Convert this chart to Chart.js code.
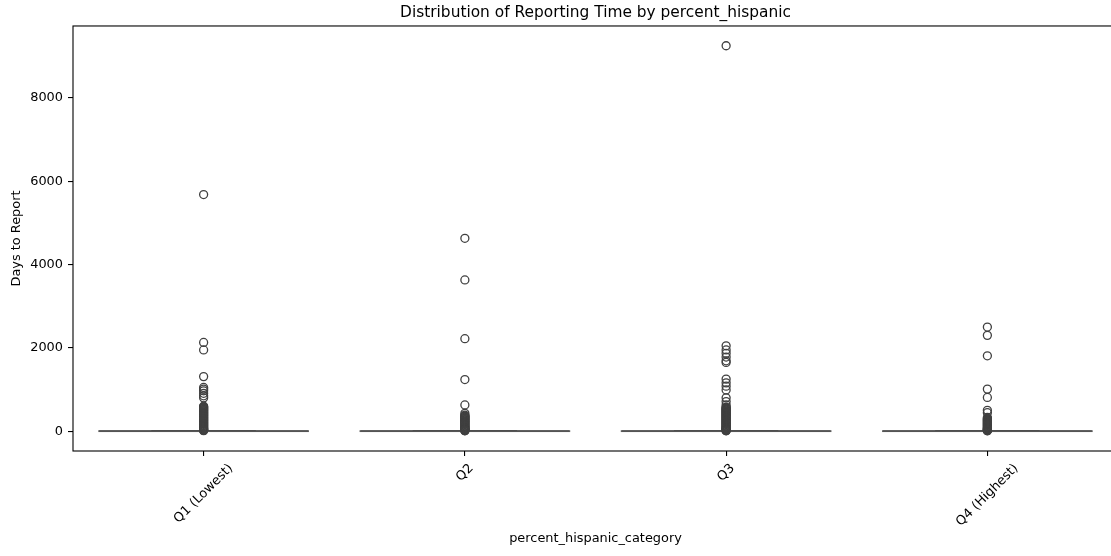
<!DOCTYPE html>
<html>
<head>
<meta charset="utf-8">
<script src="https://cdn.jsdelivr.net/npm/chart.js@4/dist/chart.umd.min.js"></script>
<style>
  html, body { margin: 0; padding: 0; overflow: hidden; background: #fff; }
  canvas { display: block; }
</style>
</head>
<body>
<canvas id="boxChart" width="1191" height="556"></canvas>
<script>
// categories and tick labels
var categories = ['Q1 (Lowest)', 'Q2', 'Q3', 'Q4 (Highest)'];
var yTicks = [0, 2000, 4000, 6000, 8000];

// box stats (days), all squashed near zero
var boxQ1 = [0, 0, 0, 0];
var boxMedian = [1, 1, 1, 1];
var boxQ3 = [4, 3, 3, 3];
var whiskerLow = [0, 0, 0, 0];
var whiskerHigh = [10, 8, 8, 8];

// outliers
var q1Outliers = [5680, 2130, 1950, 1310, 1050, 1010, 970, 910, 850, 800,
    600, 585, 570, 555, 540, 525, 510, 495, 480, 465, 450, 435, 420, 405, 390, 375, 360, 345, 330, 315,
    300, 285, 270, 255, 240, 225, 210, 195, 180, 165, 150, 135, 120, 105, 90, 78, 66, 55, 45, 36, 28, 20, 14];
var q2Outliers = [4630, 3630, 2220, 1240, 630, 430,
    385, 370, 355, 340, 325, 310, 295, 280, 265, 250, 235, 220, 205, 190, 175, 160, 145, 130, 115,
    100, 88, 76, 65, 55, 45, 36, 28, 20, 14, 10];
var q3Outliers = [9250, 2050, 1950, 1870, 1780, 1690, 1650, 1250, 1160, 1080, 990, 800, 710, 630,
    580, 565, 550, 535, 520, 505, 490, 475, 460, 445, 430, 415, 400, 385, 370, 355, 340, 325, 310,
    295, 280, 265, 250, 235, 220, 205, 190, 175, 160, 145, 130, 115, 100, 88, 76, 65, 55, 45, 36, 28, 20, 14, 10];
var q4Outliers = [2500, 2300, 1810, 1010, 810, 500, 445, 330,
    305, 290, 275, 260, 245, 230, 215, 200, 185, 170, 155, 140, 125, 110, 96, 84, 72, 62, 52, 43, 35, 27, 20, 14, 10];

var outliers = [q1Outliers, q2Outliers, q3Outliers, q4Outliers];
var points = [];
outliers.forEach(function(list, i) {
    list.forEach(function(v) { points.push({x: i, y: v}); });
});

var FONT = '"DejaVu Sans", sans-serif';

var boxPlugin = {
    id: 'boxes',
    beforeDatasetsDraw: function(chart) {
        var ctx = chart.ctx, x = chart.scales.x, y = chart.scales.y;
        ctx.save();
        ctx.lineWidth = 1.7;
        categories.forEach(function(c, i) {
            var xl = x.getPixelForValue(i - 0.4), xr = x.getPixelForValue(i + 0.4);
            var cl = x.getPixelForValue(i - 0.2), cr = x.getPixelForValue(i + 0.2);
            var xc = x.getPixelForValue(i);
            var yq1 = y.getPixelForValue(boxQ1[i]), yq3 = y.getPixelForValue(boxQ3[i]);
            // box
            ctx.strokeStyle = '#666666';
            ctx.strokeRect(xl, yq3, xr - xl, yq1 - yq3);
            ctx.strokeStyle = '#3f3f3f';
            ctx.beginPath();
            var yl = y.getPixelForValue(whiskerLow[i]), yh = y.getPixelForValue(whiskerHigh[i]);
            // whiskers
            ctx.moveTo(xc, yq1); ctx.lineTo(xc, yl);
            ctx.moveTo(xc, yq3); ctx.lineTo(xc, yh);
            // caps
            ctx.moveTo(cl, yl); ctx.lineTo(cr, yl);
            ctx.moveTo(cl, yh); ctx.lineTo(cr, yh);
            ctx.stroke();
            // median
            var ym = y.getPixelForValue(boxMedian[i]);
            ctx.strokeStyle = '#555555';
            ctx.beginPath();
            ctx.moveTo(xl, ym); ctx.lineTo(xr, ym);
            ctx.stroke();
        });
        ctx.restore();
    },
    afterDraw: function(chart) {
        var ctx = chart.ctx, a = chart.chartArea, x = chart.scales.x;
        ctx.save();
        // frame
        ctx.strokeStyle = '#000';
        ctx.lineWidth = 1.1;
        ctx.strokeRect(a.left, a.top, a.right - a.left, a.bottom - a.top);
        // rotated x labels, centred under the tick like matplotlib
        ctx.font = '12.9px ' + FONT;
        ctx.fillStyle = '#000';
        ctx.textAlign = 'center';
        ctx.textBaseline = 'middle';
        categories.forEach(function(c, i) {
            var w = ctx.measureText(c).width;
            var h = 12.9 * 1.164;
            var px = x.getPixelForValue(i);
            var cy = a.bottom + 10 + (w + h) * Math.SQRT1_2 / 2;
            ctx.save();
            ctx.translate(px, cy);
            ctx.rotate(-Math.PI / 4);
            ctx.fillText(c, 0, 0);
            ctx.restore();
        });
        ctx.restore();
    }
};

var ctxBox = document.getElementById('boxChart').getContext('2d');
var boxChart = new Chart(ctxBox, {
    type: 'scatter',
    data: {
        datasets: [{
            label: 'outliers',
            data: points,
            pointStyle: 'circle',
            pointRadius: 4,
            borderWidth: 1.3,
            borderColor: '#404040',
            backgroundColor: 'rgba(0,0,0,0)'
        }]
    },
    options: {
        responsive: false,
        animation: false,
        devicePixelRatio: 1,
        layout: { padding: 0 },
        plugins: {
            legend: { display: false },
            tooltip: { enabled: false },
            title: {
                display: true,
                text: 'Distribution of Reporting Time by percent_hispanic',
                color: '#000',
                font: { family: FONT, size: 15.4, weight: 'normal' },
                padding: { top: 3.3, bottom: 4.2 }
            }
        },
        scales: {
            x: {
                type: 'linear',
                min: -0.5,
                max: 3.5,
                afterBuildTicks: function(s) { s.ticks = categories.map(function(c, i) { return {value: i}; }); },
                afterFit: function(s) { s.height = 105; },
                ticks: { display: false },
                grid: { drawOnChartArea: false, tickLength: 5, color: '#000', lineWidth: 1.1 },
                border: { display: false },
                title: {
                    display: true,
                    text: 'percent_hispanic_category',
                    color: '#000',
                    font: { family: FONT, size: 12.9 },
                    padding: { top: 0, bottom: 9.3 }
                }
            },
            y: {
                type: 'linear',
                min: -475,
                max: 9725,
                afterBuildTicks: function(s) { s.ticks = yTicks.map(function(v) { return {value: v}; }); },
                afterFit: function(s) { s.width = 73; },
                ticks: {
                    color: '#000',
                    padding: 5,
                    font: { family: FONT, size: 12.9 },
                    callback: function(v) { return String(v); }
                },
                grid: { drawOnChartArea: false, tickLength: 5, color: '#000', lineWidth: 1.1 },
                border: { display: false },
                title: {
                    display: true,
                    text: 'Days to Report',
                    color: '#000',
                    font: { family: FONT, size: 12.9 },
                    padding: { top: 9.3, bottom: 0 }
                }
            },
            yRight: {
                type: 'linear',
                position: 'right',
                display: true,
                afterFit: function(s) { s.width = 73; },
                ticks: { display: false },
                grid: { display: false },
                border: { display: false }
            }
        }
    },
    plugins: [boxPlugin]
});
</script>
</body>
</html>
